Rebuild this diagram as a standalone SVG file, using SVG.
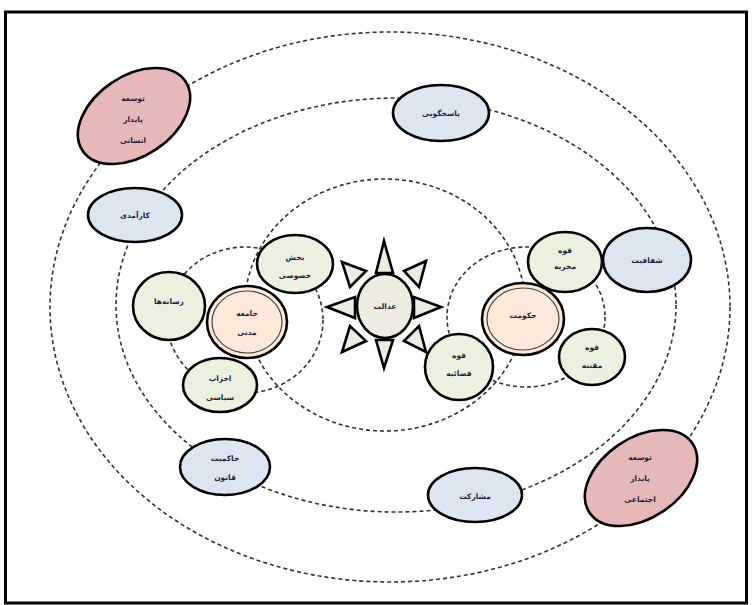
<svg xmlns="http://www.w3.org/2000/svg" width="753" height="605" viewBox="0 0 753 605">
<style>
.ring{fill:none;stroke:#333;stroke-width:1.6;stroke-dasharray:4 3}
.n{stroke:#000;stroke-width:2.6}
.pink{fill:#e6b9b8}
.blue{fill:#dce6f2}
.green{fill:#ebf1de}
.peach{fill:#fde9d9}
.beige{fill:#eeece1}
.ray{fill:#eeece1;stroke:#000;stroke-width:2.6;stroke-linejoin:miter}
.inner{fill:none;stroke:#444;stroke-width:1.2}
text{font-family:"DejaVu Sans","Noto Sans",sans-serif;font-size:7.5px;font-weight:bold;fill:#1f1f3a;text-anchor:middle;dominant-baseline:central}
</style>
<rect x="0" y="0" width="753" height="605" fill="#fff"/>
<rect x="5.5" y="12" width="741" height="591" fill="none" stroke="#000" stroke-width="3"/>
<g id="connectors">
<ellipse class="ring" cx="390" cy="307" rx="340" ry="275"/>
<ellipse class="ring" cx="396" cy="305" rx="280" ry="207"/>
<ellipse class="ring" cx="385" cy="305" rx="140" ry="126"/>
<ellipse class="ring" cx="245" cy="320" rx="78" ry="73"/>
<ellipse class="ring" cx="526" cy="317" rx="79" ry="70"/>
</g>
<g id="node-human-dev">
<ellipse class="n pink" cx="134" cy="116" rx="62" ry="40" transform="rotate(-34 134 116)"/>
<text x="133" y="98">توسعه</text>
<text x="133" y="119">پایدار</text>
<text x="133" y="140">انسانی</text>
</g>
<g id="node-accountability">
<ellipse class="n blue" cx="441" cy="113" rx="48" ry="28"/>
<text x="441" y="113">پاسخگویی</text>
</g>
<g id="node-efficiency">
<ellipse class="n blue" cx="135" cy="215" rx="47" ry="27"/>
<text x="135" y="215">کارآمدی</text>
</g>
<g id="node-transparency">
<ellipse class="n blue" cx="647" cy="260" rx="44" ry="32"/>
<text x="647" y="260">شفافیت</text>
</g>
<g id="node-rule-of-law">
<ellipse class="n blue" cx="225" cy="467" rx="45" ry="28"/>
<text x="225" y="458">حاکمیت</text>
<text x="225" y="477">قانون</text>
</g>
<g id="node-participation">
<ellipse class="n blue" cx="475" cy="495" rx="47" ry="27"/>
<text x="475" y="496">مشارکت</text>
</g>
<g id="node-social-dev">
<ellipse class="n pink" cx="641" cy="478" rx="62" ry="40" transform="rotate(-34 641 478)"/>
<text x="640" y="457">توسعه</text>
<text x="640" y="478">پایدار</text>
<text x="640" y="499">اجتماعی</text>
</g>
<g id="node-media">
<ellipse class="n green" cx="169" cy="306" rx="36" ry="34"/>
<text x="169" y="301">رسانه‌ها</text>
</g>
<g id="node-private-sector">
<ellipse class="n green" cx="295" cy="264" rx="38" ry="29"/>
<text x="295" y="257">بخش</text>
<text x="295" y="275">خصوصی</text>
</g>
<g id="node-parties">
<ellipse class="n green" cx="220" cy="385" rx="37" ry="27"/>
<text x="220" y="378">احزاب</text>
<text x="220" y="397">سیاسی</text>
</g>
<g id="node-civil-society">
<ellipse class="n peach" cx="247" cy="322" rx="40" ry="36" stroke-width="3.5"/>
<ellipse class="inner" cx="247" cy="322" rx="35" ry="31"/>
<text x="247" y="313">جامعه</text>
<text x="247" y="332">مدنی</text>
</g>
<g id="node-justice">
<polygon class="ray" points="384,241 376,273 393,273"/>
<polygon class="ray" points="384,368 376,340 393,340"/>
<polygon class="ray" points="327,307 355,297 355,318"/>
<polygon class="ray" points="441,307 414,297 414,318"/>
<polygon class="ray" points="342,262 366,271 350,287"/>
<polygon class="ray" points="426,261 404,271 419,287"/>
<polygon class="ray" points="342,352 350,326 366,341"/>
<polygon class="ray" points="426,352 419,326 404,341"/>
<ellipse class="n beige" cx="385" cy="306" rx="28" ry="32"/>
<text x="385" y="306">عدالت</text>
</g>
<g id="node-government">
<ellipse class="n peach" cx="523" cy="319" rx="41" ry="36" stroke-width="3.5"/>
<ellipse class="inner" cx="523" cy="319" rx="36" ry="31"/>
<text x="523" y="315">حکومت</text>
</g>
<g id="node-executive">
<ellipse class="n green" cx="565" cy="262" rx="37" ry="30"/>
<text x="565" y="250">قوه</text>
<text x="565" y="266">مجریه</text>
</g>
<g id="node-legislative">
<ellipse class="n green" cx="592" cy="357" rx="33" ry="28"/>
<text x="592" y="347">قوه</text>
<text x="592" y="365">مقننه</text>
</g>
<g id="node-judiciary">
<ellipse class="n green" cx="459" cy="367" rx="34" ry="33"/>
<text x="459" y="355">قوه</text>
<text x="459" y="373">قضائیه</text>
</g>
</svg>
